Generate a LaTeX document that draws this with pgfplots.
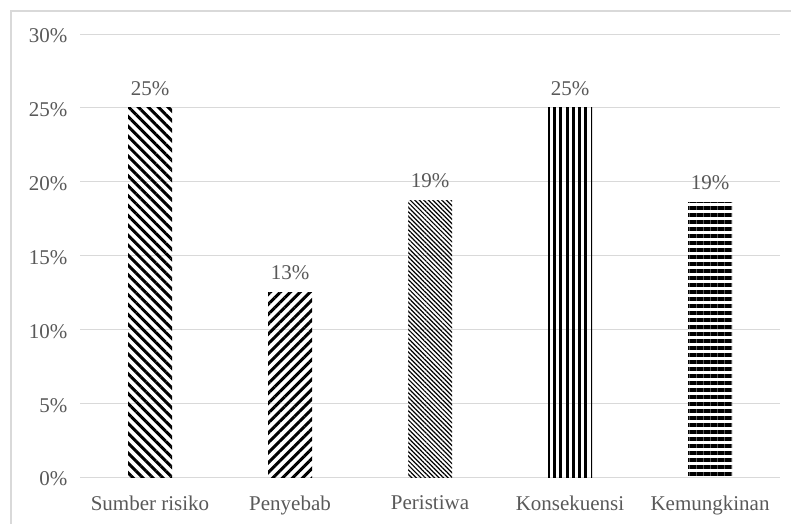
\documentclass[border=0pt]{standalone}
\usepackage{fontspec}
\setmainfont{Liberation Serif}
\usepackage{pgfplots}
\pgfplotsset{compat=1.18}
\usetikzlibrary{patterns.meta}
\definecolor{txt}{HTML}{595959}
\definecolor{grd}{HTML}{D9D9D9}
\begin{document}
\begin{tikzpicture}[x=1pt,y=1pt]
\useasboundingbox (0,0) rectangle (791,-523);
\draw[grd, line width=1.5pt] (11,-11) rectangle (900,-600);
\begin{axis}[
  at={(80pt,-477pt)}, anchor=south west,
  width=700pt, height=443pt, scale only axis,
  ymin=0, ymax=30, xmin=-0.5, xmax=4.5,
  ytick={0,5,10,15,20,25,30},
  yticklabels={0\%,5\%,10\%,15\%,20\%,25\%,30\%},
  xtick={0,1,2,3,4},
  xticklabels={Sumber risiko,Penyebab,Peristiwa,Konsekuensi,Kemungkinan},
  axis line style={draw=none},
  major tick length=0pt,
  ymajorgrids, grid style={grd, line width=1pt},
  tick label style={font=\fontsize{21}{25}\selectfont, text=txt},
  yticklabel style={xshift=-9pt, yshift=-2pt},
  xticklabel style={yshift=-15pt},
  ybar, bar width=44pt, bar shift=0pt,
  point meta=explicit symbolic,
  nodes near coords={\pgfplotspointmeta\%},
  nodes near coords style={font=\fontsize{21}{25}\selectfont, text=txt, anchor=south, yshift=9pt},
  clip=false,
]
\addplot[draw=none, pattern={Lines[angle=-45,distance=7pt,line width=3pt]}] coordinates {(0,25) [25]};
\addplot[draw=none, pattern={Lines[angle=45,distance=7pt,line width=3pt]}] coordinates {(1,12.5) [13]};
\addplot[draw=none, pattern={Lines[angle=-45,distance=3.2pt,line width=1.2pt]}] coordinates {(2,18.75) [19]};
\addplot[draw=none, pattern={Lines[angle=90,distance=6.3pt,line width=3pt]}] coordinates {(3,25) [25]};
\addplot[draw=none, pattern={Lines[angle=0,distance=7pt,line width=3.3pt]}] coordinates {(4,18.6) [19]};
\end{axis}
\end{tikzpicture}
\end{document}
